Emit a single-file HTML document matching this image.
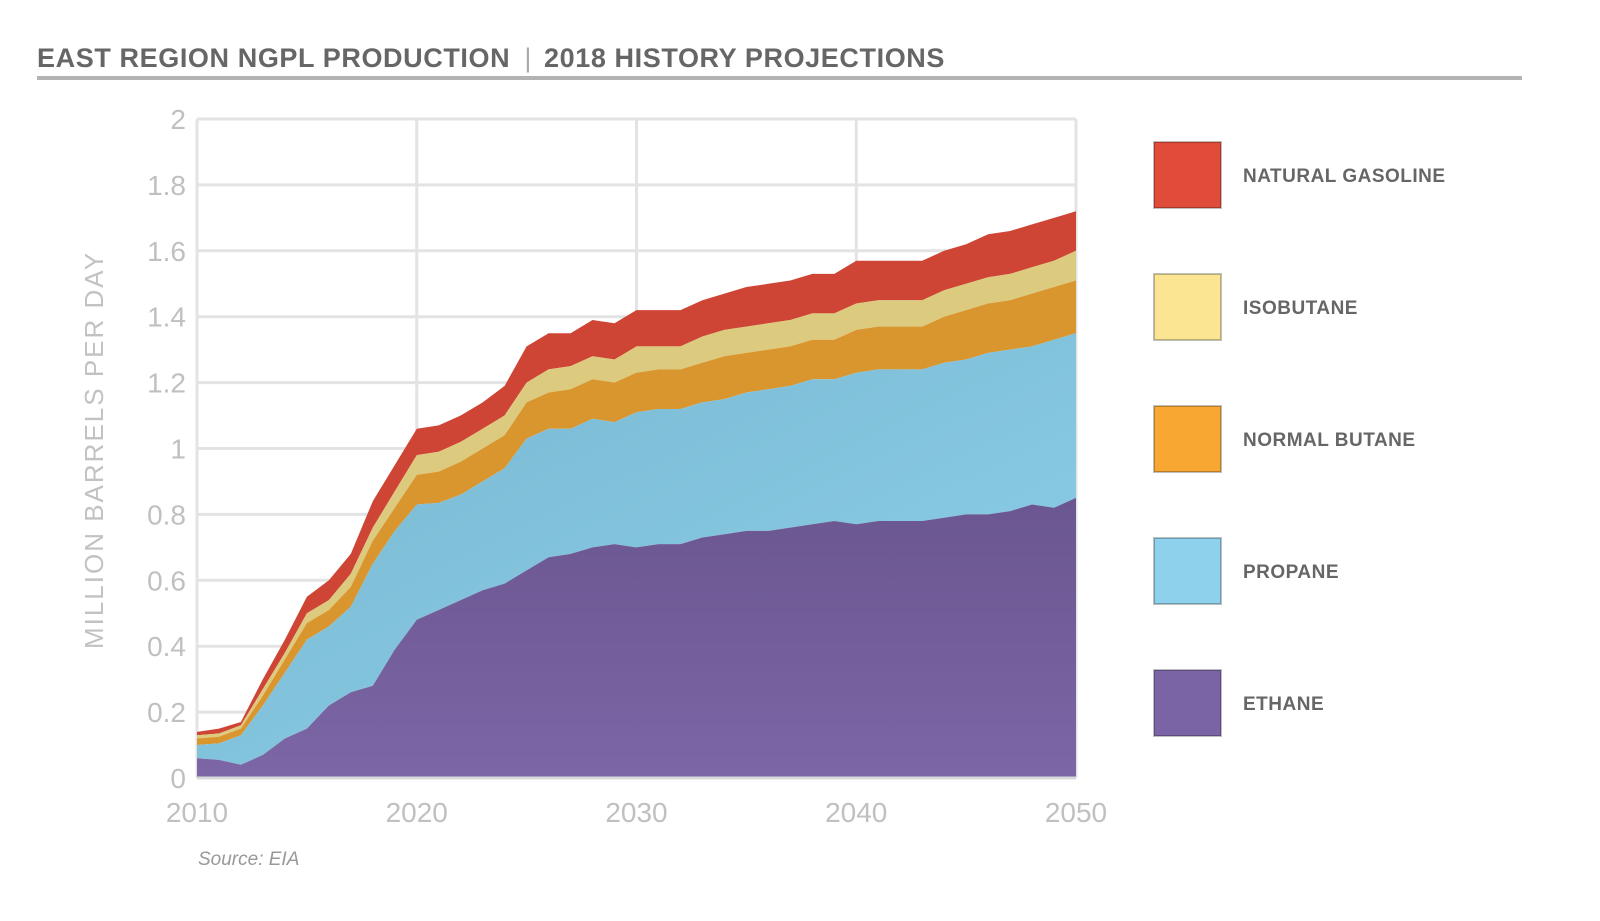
<!DOCTYPE html>
<html><head><meta charset="utf-8"><style>
html,body{margin:0;padding:0;background:#fff;}
body{width:1600px;height:916px;overflow:hidden;font-family:"Liberation Sans",sans-serif;}
</style></head><body>
<svg width="1600" height="916" viewBox="0 0 1600 916">
<defs>
<linearGradient id="gPurple" x1="0" y1="0" x2="0" y2="1"><stop offset="0" stop-color="#6a5690"/><stop offset="1" stop-color="#7c66a6"/></linearGradient>
<linearGradient id="gBlue" x1="0" y1="0" x2="1" y2="1"><stop offset="0" stop-color="#78b6cf"/><stop offset="1" stop-color="#8dd0ea"/></linearGradient>
</defs>
<text x="37" y="67" font-size="27" font-weight="bold" fill="#666" letter-spacing="0.6">EAST REGION NGPL PRODUCTION <tspan fill="#aaa" font-weight="normal" dx="6">|</tspan><tspan dx="12">2018 HISTORY PROJECTIONS</tspan></text>
<rect x="37" y="76" width="1485" height="4" fill="#b3b3b3"/>
<g id="grid"></g>
<g id="areas"></g>
<g id="axes"></g>
<text x="103" y="450" font-size="26" fill="#c2c2c2" text-anchor="middle" letter-spacing="2" transform="rotate(-90 103 450)">MILLION BARRELS PER DAY</text>
<text x="198" y="865" font-size="19" font-style="italic" fill="#999">Source: EIA</text>
<g id="legend"></g>
</svg>
<script>
const years = [];
for (let y = 2010; y <= 2050; y++) years.push(y);
// cumulative stack tops (million b/d)
const ethaneTop = [0.06,0.055,0.04,0.07,0.12,0.15,0.22,0.26,0.28,0.39,0.48,0.51,0.54,0.57,0.59,0.63,0.67,0.68,0.70,0.71,0.70,0.71,0.71,0.73,0.74,0.75,0.75,0.76,0.77,0.78,0.77,0.78,0.78,0.78,0.79,0.80,0.80,0.81,0.83,0.82,0.85];
const propaneTop = [0.10,0.105,0.13,0.22,0.32,0.42,0.46,0.52,0.65,0.75,0.83,0.835,0.86,0.90,0.94,1.03,1.06,1.06,1.09,1.08,1.11,1.12,1.12,1.14,1.15,1.17,1.18,1.19,1.21,1.21,1.23,1.24,1.24,1.24,1.26,1.27,1.29,1.30,1.31,1.33,1.35];
const butaneTop = [0.12,0.125,0.15,0.25,0.36,0.47,0.51,0.58,0.72,0.82,0.92,0.93,0.96,1.00,1.04,1.14,1.17,1.18,1.21,1.20,1.23,1.24,1.24,1.26,1.28,1.29,1.30,1.31,1.33,1.33,1.36,1.37,1.37,1.37,1.40,1.42,1.44,1.45,1.47,1.49,1.51];
const isobutaneTop = [0.13,0.135,0.16,0.27,0.38,0.50,0.54,0.62,0.76,0.87,0.98,0.99,1.02,1.06,1.10,1.20,1.24,1.25,1.28,1.27,1.31,1.31,1.31,1.34,1.36,1.37,1.38,1.39,1.41,1.41,1.44,1.45,1.45,1.45,1.48,1.50,1.52,1.53,1.55,1.57,1.60];
const gasolineTop = [0.14,0.15,0.17,0.30,0.42,0.55,0.60,0.68,0.84,0.95,1.06,1.07,1.10,1.14,1.19,1.31,1.35,1.35,1.39,1.38,1.42,1.42,1.42,1.45,1.47,1.49,1.50,1.51,1.53,1.53,1.57,1.57,1.57,1.57,1.60,1.62,1.65,1.66,1.68,1.70,1.72];
const yTicks = [0,0.2,0.4,0.6,0.8,1,1.2,1.4,1.6,1.8,2];
const yTickLabels = ["0","0.2","0.4","0.6","0.8","1","1.2","1.4","1.6","1.8","2"];
const xTicks = [2010,2020,2030,2040,2050];
const legendLabels = ["NATURAL GASOLINE","ISOBUTANE","NORMAL BUTANE","PROPANE","ETHANE"];
const legendColors = ["#e04b3a","#fbe593","#f9a733","#8ed1ec","#7b64a6"];

const X0=197,X1=1076,Y0=778,Y1=119;
const xs = v => X0 + (v-2010)/40*(X1-X0);
const ys = v => Y0 - v/2*(Y0-Y1);
const NS="http://www.w3.org/2000/svg";
function mk(tag, attrs, parent){const e=document.createElementNS(NS,tag);for(const k in attrs)e.setAttribute(k,attrs[k]);parent.appendChild(e);return e;}

const grid=document.getElementById('grid');
yTicks.forEach((t,i)=>{
  const l=mk('line',{x1:X0,x2:X1,y1:ys(t),y2:ys(t),stroke:'#e3e3e3','stroke-width':3},grid);
  
  
  const tx=mk('text',{x:186,y:ys(t)+10,'font-size':28,fill:'#c0c0c0','text-anchor':'end'},grid);
  tx.textContent=yTickLabels[i];
  
  
});
xTicks.forEach(t=>{
  const l=mk('line',{x1:xs(t),x2:xs(t),y1:Y1,y2:Y0,stroke:'#e3e3e3','stroke-width':3},grid);
  
  
  const tx=mk('text',{x:xs(t),y:822,'font-size':28,fill:'#c0c0c0','text-anchor':'middle'},grid);
  tx.textContent=String(t);
  
  
});

const areas=document.getElementById('areas');
const layers=[
 {top:gasolineTop,bot:isobutaneTop,fill:'#cf4535',name:'natural-gasoline-area'},
 {top:isobutaneTop,bot:butaneTop,fill:'#dcca7e',name:'isobutane-area'},
 {top:butaneTop,bot:propaneTop,fill:'#d9952e',name:'normal-butane-area'},
 {top:propaneTop,bot:ethaneTop,fill:'url(#gBlue)',name:'propane-area'},
 {top:ethaneTop,bot:null,fill:'url(#gPurple)',name:'ethane-area'}
];
layers.forEach(L=>{
  let d='';
  years.forEach((yr,i)=>{d+=(i?'L':'M')+xs(yr).toFixed(1)+','+ys(L.top[i]).toFixed(1);});
  for(let i=years.length-1;i>=0;i--){d+='L'+xs(years[i]).toFixed(1)+','+ys(L.bot?L.bot[i]:0).toFixed(1);}
  d+='Z';
  const p=mk('path',{d:d,fill:L.fill,stroke:'none','stroke-linejoin':'round'},areas);
  
  
});
const axes=document.getElementById('axes');
const ax=mk('line',{x1:X0,x2:X1,y1:Y0,y2:Y0,stroke:'#d8d8d8','stroke-width':3},axes);



const legend=document.getElementById('legend');
legendLabels.forEach((lab,i)=>{
  const y=142+i*132;
  const r=mk('rect',{x:1154,y:y,width:67,height:66,fill:legendColors[i],stroke:'rgba(0,0,0,0.25)','stroke-width':2},legend);
  
  
  const t=mk('text',{x:1243,y:y+40,'font-size':19,'font-weight':'bold',fill:'#666','letter-spacing':0.5},legend);
  t.textContent=lab;
  
  
});
</script>
</body></html>
